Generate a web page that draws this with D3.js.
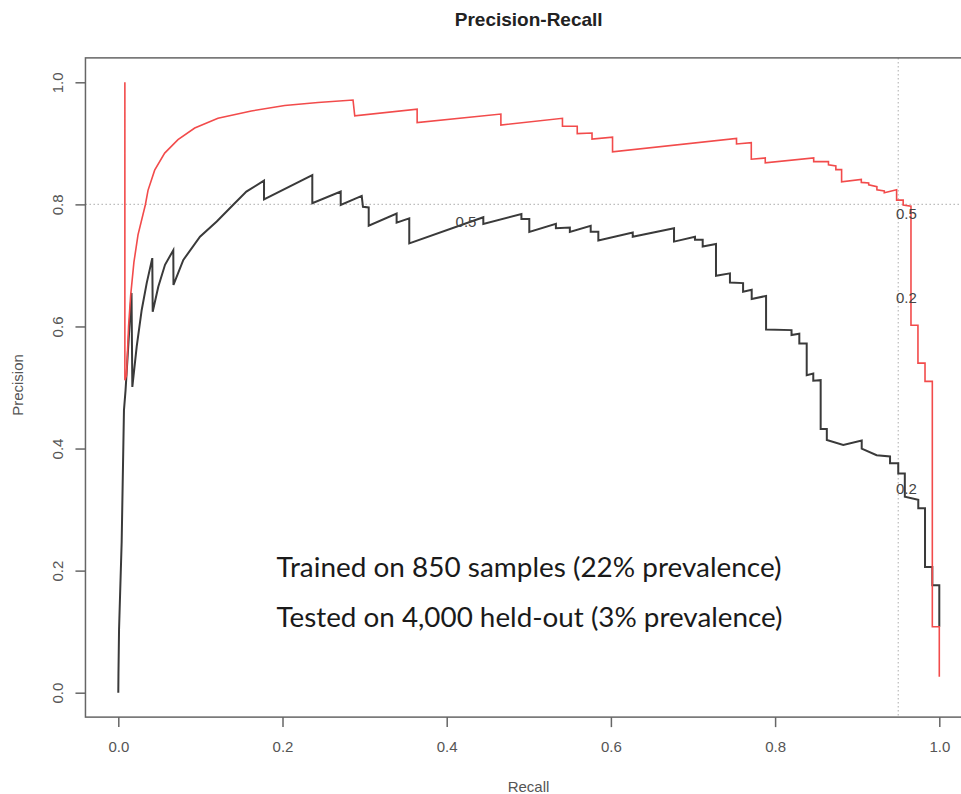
<!DOCTYPE html>
<html>
<head>
<meta charset="utf-8">
<script src="https://cdn.jsdelivr.net/npm/d3@7"></script>
<style>
  body { margin: 0; background: #fff; }
  svg { display: block; }
  .tick text { font-family: "Liberation Sans", Arial, sans-serif; fill: #555; }
</style>
</head>
<body>
<div id="chart"></div>
<script>
// precision-recall curves
let redRecall = [0.008, 0.008, 0.010, 0.0125, 0.015, 0.019, 0.024, 0.0329, 0.0362, 0.0443, 0.0565, 0.0727, 0.0931, 0.1214,
    0.162, 0.2027, 0.2432, 0.2859,
    0.288, 0.364, 0.364, 0.466, 0.466, 0.541, 0.541, 0.559, 0.559, 0.577, 0.577, 0.602, 0.602, 0.753, 0.753, 0.771, 0.771,
    0.788, 0.788, 0.847, 0.847, 0.865, 0.865, 0.874, 0.874, 0.881, 0.881, 0.905, 0.905, 0.914, 0.914, 0.924, 0.924,
    0.933, 0.933, 0.948, 0.948, 0.956, 0.956, 0.9655, 0.9655, 0.974, 0.974, 0.9826, 0.9826, 0.9915, 0.9915, 1.0, 1.0];
let redPrecision = [1.0, 0.512, 0.520, 0.600, 0.650, 0.705, 0.750, 0.799, 0.823, 0.856, 0.884, 0.906, 0.925, 0.941,
    0.953, 0.962, 0.967, 0.971,
    0.945, 0.956, 0.934, 0.948, 0.930, 0.941, 0.928, 0.928, 0.916, 0.917, 0.907, 0.910, 0.886, 0.908, 0.899, 0.901, 0.874,
    0.876, 0.868, 0.876, 0.870, 0.870, 0.865, 0.863, 0.857, 0.857, 0.837, 0.841, 0.836, 0.835, 0.832, 0.829, 0.824,
    0.822, 0.819, 0.824, 0.807, 0.807, 0.799, 0.797, 0.602, 0.602, 0.540, 0.540, 0.510, 0.510, 0.108, 0.108, 0.026];

let blackRecall = [0, 0.0002, 0.0009, 0.0041, 0.0069, 0.0088, 0.0161, 0.0171, 0.0224, 0.0285, 0.0346, 0.0414, 0.0419, 0.0487, 0.0569,
    0.067, 0.0672, 0.0792, 0.0995, 0.1199, 0.1397, 0.156, 0.1775, 0.1775, 0.2363, 0.2363, 0.2709, 0.2709, 0.2965, 0.298,
    0.305, 0.305, 0.339, 0.339, 0.3544, 0.3544, 0.4446, 0.4446, 0.491, 0.491, 0.5006, 0.5006, 0.533, 0.533, 0.550, 0.550,
    0.5754, 0.5754, 0.5847, 0.5847, 0.6266, 0.6266, 0.6769, 0.6769, 0.7024, 0.7024, 0.7118, 0.7118, 0.728, 0.728,
    0.745, 0.745, 0.761, 0.761, 0.7715, 0.7715, 0.789, 0.789, 0.820, 0.820, 0.8295, 0.8295, 0.8385, 0.8385, 0.8465, 0.8465,
    0.8555, 0.8555, 0.863, 0.863, 0.883, 0.9055, 0.9055, 0.9237, 0.940, 0.940, 0.950, 0.950, 0.958, 0.958, 0.9744, 0.9744,
    0.9826, 0.9826, 0.9915, 0.9915, 1.0, 1.0];
let blackPrecision = [0, 0.032, 0.103, 0.247, 0.463, 0.495, 0.655, 0.501, 0.567, 0.627, 0.671, 0.712, 0.624, 0.665, 0.701,
    0.725, 0.668, 0.709, 0.747, 0.772, 0.799, 0.821, 0.839, 0.808, 0.848, 0.802, 0.821, 0.799, 0.814, 0.796,
    0.795, 0.765, 0.785, 0.770, 0.777, 0.736, 0.779, 0.768, 0.784, 0.776, 0.776, 0.755, 0.768, 0.761, 0.762, 0.755,
    0.765, 0.755, 0.755, 0.741, 0.754, 0.747, 0.761, 0.739, 0.747, 0.742, 0.742, 0.731, 0.735, 0.683,
    0.687, 0.672, 0.671, 0.657, 0.660, 0.645, 0.650, 0.595, 0.594, 0.586, 0.588, 0.572, 0.572, 0.520, 0.523, 0.511,
    0.512, 0.432, 0.432, 0.414, 0.406, 0.413, 0.400, 0.389, 0.387, 0.376, 0.376, 0.359, 0.359, 0.321, 0.316, 0.302,
    0.302, 0.206, 0.206, 0.176, 0.176, 0.108];

// threshold labels on the curves
let cutLabels = ["0.5", "0.5", "0.2", "0.2"];
let cutRecall = [0.4235, 0.960, 0.960, 0.960];
let cutPrecision = [0.763, 0.776, 0.638, 0.326];

let refRecall = 0.95;
let refPrecision = 0.8;

let noteLines = ["Trained on 850 samples (22% prevalence)", "Tested on 4,000 held-out (3% prevalence)"];

let width = 961, height = 794;

let svg = d3.select("#chart").append("svg")
    .attr("width", width)
    .attr("height", height);

let x = d3.scaleLinear().domain([0, 1]).range([118.3, 939.3]);
let y = d3.scaleLinear().domain([0, 1]).range([692.7, 82.3]);

// plot frame (R pads the range by 4%)
let frameLeft = x(-0.04), frameRight = x(1.04), frameTop = y(1.04), frameBottom = y(-0.04);

// reference lines
svg.append("line")
    .attr("x1", frameLeft).attr("x2", frameRight)
    .attr("y1", y(refPrecision)).attr("y2", y(refPrecision))
    .attr("stroke", "#bbb").attr("stroke-width", 1.2)
    .attr("stroke-dasharray", "1.5,2.5");
svg.append("line")
    .attr("x1", x(refRecall)).attr("x2", x(refRecall))
    .attr("y1", frameTop).attr("y2", frameBottom)
    .attr("stroke", "#bbb").attr("stroke-width", 1.2)
    .attr("stroke-dasharray", "1.5,2.5");

svg.append("rect")
    .attr("x", frameLeft).attr("y", frameTop)
    .attr("width", frameRight - frameLeft).attr("height", frameBottom - frameTop)
    .attr("fill", "none").attr("stroke", "#666").attr("stroke-width", 1.5);

// axes
let xAxis = svg.append("g")
    .attr("transform", "translate(0," + frameBottom + ")")
    .call(d3.axisBottom(x).ticks(5).tickSize(10).tickPadding(14).tickFormat(d3.format(".1f")));
xAxis.select(".domain").remove();
xAxis.selectAll("line").attr("stroke", "#666").attr("stroke-width", 1.5);
xAxis.selectAll("text").style("font-size", "15px");

let yAxis = svg.append("g")
    .attr("transform", "translate(" + frameLeft + ",0)")
    .call(d3.axisLeft(y).ticks(5).tickSize(10).tickFormat(d3.format(".1f")));
yAxis.select(".domain").remove();
yAxis.selectAll("line").attr("stroke", "#666").attr("stroke-width", 1.5);
yAxis.selectAll("text")
    .style("font-size", "15px")
    .attr("x", null).attr("dy", null)
    .attr("text-anchor", "middle")
    .attr("transform", "translate(-22,0) rotate(-90)");

// titles
svg.append("text")
    .attr("x", 528.7).attr("y", 26)
    .attr("text-anchor", "middle")
    .style("font-family", "'Liberation Sans', Arial, sans-serif")
    .style("font-weight", "bold")
    .style("font-size", "19px")
    .attr("fill", "#222")
    .text("Precision-Recall");

svg.append("text")
    .attr("x", 528.5).attr("y", 792)
    .attr("text-anchor", "middle")
    .style("font-family", "'Liberation Sans', Arial, sans-serif")
    .style("font-size", "15px")
    .attr("fill", "#555")
    .text("Recall");

svg.append("text")
    .attr("transform", "translate(23,385) rotate(-90)")
    .attr("text-anchor", "middle")
    .style("font-family", "'Liberation Sans', Arial, sans-serif")
    .style("font-size", "15px")
    .attr("fill", "#555")
    .text("Precision");

// curves
let line = d3.line()
    .x(function(d) { return x(d[0]); })
    .y(function(d) { return y(d[1]); });

let blackData = blackRecall.map(function(r, i) { return [r, blackPrecision[i]]; });
let redData = redRecall.map(function(r, i) { return [r, redPrecision[i]]; });

svg.append("path")
    .datum(blackData)
    .attr("d", line)
    .attr("fill", "none")
    .attr("stroke", "#3a3a3a")
    .attr("stroke-width", 2)
    .attr("stroke-linejoin", "miter");

svg.append("path")
    .datum(redData)
    .attr("d", line)
    .attr("fill", "none")
    .attr("stroke", "#f24b4b")
    .attr("stroke-width", 1.6);

// cutoff labels
svg.selectAll(".cut-label")
    .data(cutLabels)
    .enter()
    .append("text")
    .attr("class", "cut-label")
    .attr("x", function(d, i) { return x(cutRecall[i]); })
    .attr("y", function(d, i) { return y(cutPrecision[i]); })
    .attr("text-anchor", "middle")
    .style("font-family", "'Liberation Sans', Arial, sans-serif")
    .style("font-size", "15px")
    .attr("fill", "#444")
    .text(function(d) { return d; });

// annotation
svg.selectAll(".note")
    .data(noteLines)
    .enter()
    .append("text")
    .attr("class", "note")
    .attr("x", 276.5)
    .attr("y", function(d, i) { return 577.3 + i * 50; })
    .attr("textLength", function(d, i) { return i === 0 ? 505 : 506; })
    .attr("lengthAdjust", "spacingAndGlyphs")
    .style("font-family", "Lato, 'Open Sans', sans-serif")
    .style("font-size", "27px")
    .attr("fill", "#1a1a1a")
    .text(function(d) { return d; });
</script>
</body>
</html>
